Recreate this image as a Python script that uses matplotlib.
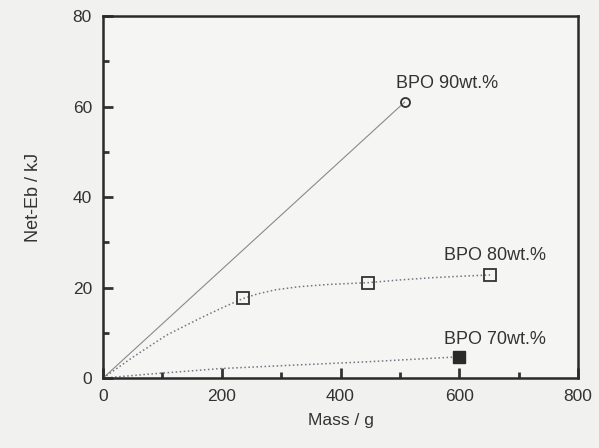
import matplotlib.pyplot as plt
from matplotlib.ticker import MultipleLocator

plt.rcParams['font.family'] = ['Liberation Sans', 'DejaVu Sans']

# measured points
bpo90_x = [0, 508]
bpo90_y = [0, 61]
bpo80_x = [236, 447, 652]
bpo80_y = [17.6, 21.1, 22.8]
bpo70_x = [599]
bpo70_y = [4.7]

# guide curves
curve80_x = [0, 51, 107, 163, 200, 236, 260, 290, 330, 380, 447, 500, 556, 600, 652]
curve80_y = [0, 4.7, 9.5, 13.2, 15.5, 17.6, 18.6, 19.5, 20.2, 20.7, 21.1, 21.7, 22.2, 22.5, 22.8]
curve70_x = [0, 79, 197, 326, 444, 599]
curve70_y = [0, 0.9, 2.1, 2.9, 3.6, 4.7]

fig = plt.figure(figsize=(5.99, 4.48), dpi=100, facecolor='#f1f1ef')
ax = fig.add_axes([0.172, 0.156, 0.793, 0.808])
ax.set_facecolor('#f5f5f3')

line_col = '#7d6f84'
ax.plot(bpo90_x, bpo90_y, '-', color='#8a8a8a', lw=0.8)
ax.plot(curve80_x, curve80_y, ':', color=line_col, lw=1.1)
ax.plot(curve70_x, curve70_y, ':', color=line_col, lw=1.1)

ax.plot(bpo90_x[1:], bpo90_y[1:], 'o', ms=6.5, mfc='none', mec='#333333', mew=1.3)
ax.plot(bpo80_x, bpo80_y, 's', ms=8, mfc='none', mec='#333333', mew=1.3)
ax.plot(bpo70_x, bpo70_y, 's', ms=8, mfc='#2a2a2a', mec='#2a2a2a', mew=1.0)

ax.text(493, 65.2, 'BPO 90wt.%', fontsize=13, color='#333333', va='center')
ax.text(574, 27, 'BPO 80wt.%', fontsize=13, color='#333333', va='center')
ax.text(574, 8.6, 'BPO 70wt.%', fontsize=13, color='#333333', va='center')

ax.set_xlim(0, 800)
ax.set_ylim(0, 80)
ax.xaxis.set_major_locator(MultipleLocator(200))
ax.xaxis.set_minor_locator(MultipleLocator(100))
ax.yaxis.set_major_locator(MultipleLocator(20))
ax.yaxis.set_minor_locator(MultipleLocator(10))
ax.tick_params(which='both', direction='in', top=False, right=False,
               colors='#333333', labelsize=12.5, width=2)
ax.tick_params(which='major', length=7, pad=8)
ax.tick_params(which='minor', length=4)
for s in ax.spines.values():
    s.set_linewidth(1.8)
    s.set_color('#2a2a2a')

ax.set_xlabel('Mass / g', fontsize=12.5, color='#333333', labelpad=6)
ax.set_ylabel('Net-Eb / kJ', fontsize=13, color='#333333', labelpad=22)

fig.savefig('out.png', dpi=100, facecolor=fig.get_facecolor())
